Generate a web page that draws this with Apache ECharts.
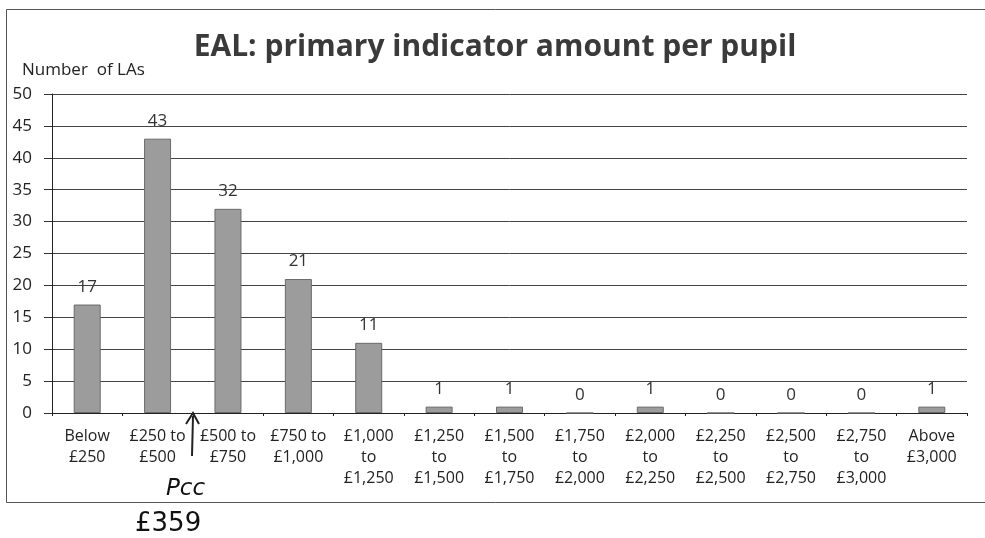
<!DOCTYPE html>
<html>
<head>
<meta charset="utf-8">
<script src="https://cdn.jsdelivr.net/npm/echarts@6/dist/echarts.min.js"></script>
<style>
html,body{margin:0;padding:0;background:#fff;}
#chart{width:985px;height:538px;}
</style>
</head>
<body>
<div id="chart"></div>
<script>
var categories = ["Below\n£250", "£250 to\n£500", "£500 to\n£750", "£750 to\n£1,000", "£1,000\nto\n£1,250", "£1,250\nto\n£1,500", "£1,500\nto\n£1,750", "£1,750\nto\n£2,000", "£2,000\nto\n£2,250", "£2,250\nto\n£2,500", "£2,500\nto\n£2,750", "£2,750\nto\n£3,000", "Above\n£3,000"];
var counts = [17, 43, 32, 21, 11, 1, 1, 0, 1, 0, 0, 0, 1];
var yTicks = [0, 5, 10, 15, 20, 25, 30, 35, 40, 45, 50];

var chart = echarts.init(document.getElementById('chart'), null, {renderer: 'canvas'});
var font = '"Open Sans", Lato, sans-serif';
chart.setOption({
  animation: false,
  backgroundColor: '#fff',
  title: {
    text: 'EAL: primary indicator amount per pupil',
    left: 490, top: 27, textAlign: 'center',
    textStyle: {fontFamily: font, fontSize: 30, fontWeight: 'bold', color: '#3a3a3a'}
  },
  grid: {left: 52, right: 18, top: 94, bottom: 125, containLabel: false, outerBoundsMode: 'none'},
  xAxis: {
    type: 'category',
    data: categories,
    axisLine: {lineStyle: {color: '#222', width: 1}},
    axisTick: {show: true, alignWithLabel: false, length: 3, lineStyle: {color: '#222'}},
    axisLabel: {fontFamily: font, fontSize: 16, color: '#222', lineHeight: 21, margin: 13, interval: 0}
  },
  yAxis: {
    type: 'value',
    min: yTicks[0], max: yTicks[yTicks.length - 1], interval: 5,
    name: 'Number  of LAs',
    nameLocation: 'end',
    nameGap: 15,
    nameTextStyle: {fontFamily: font, fontSize: 17, color: '#222', align: 'left', padding: [0, 0, 0, -30]},
    axisLine: {show: true, lineStyle: {color: '#222'}},
    axisTick: {show: true, length: 8, lineStyle: {color: '#333'}},
    axisLabel: {fontFamily: font, fontSize: 17, color: '#222', margin: 20},
    splitLine: {lineStyle: {color: '#444', width: 1}}
  },
  series: [{
    type: 'bar',
    data: counts,
    barWidth: 27,
    itemStyle: {color: '#9c9c9c', borderColor: '#6a6a6a', borderWidth: 1},
    label: {show: true, position: 'top', distance: 9, fontFamily: font, fontSize: 17, color: '#333'}
  }],
  graphic: [
    {type: 'polyline', shape: {points: [[985, 9.5], [6.5, 9.5], [6.5, 502.5], [985, 502.5]]}, style: {stroke: '#555', lineWidth: 1, fill: 'none'}, z: -1},
    {type: 'line', shape: {x1: 192, y1: 456, x2: 193, y2: 416}, style: {stroke: '#222', lineWidth: 2}},
    {type: 'polyline', shape: {points: [[186, 424], [193, 413], [199, 424]]}, style: {stroke: '#222', lineWidth: 2, fill: 'none'}},
    {type: 'text', left: 166, top: 478, style: {text: 'Pcc', fontFamily: 'DejaVu Sans', fontStyle: 'italic', fontSize: 23, fill: '#111'}},
    {type: 'text', left: 135, top: 511, style: {text: '£359', fontFamily: 'DejaVu Sans', fontSize: 26, fill: '#111'}}
  ]
});
</script>
</body>
</html>
